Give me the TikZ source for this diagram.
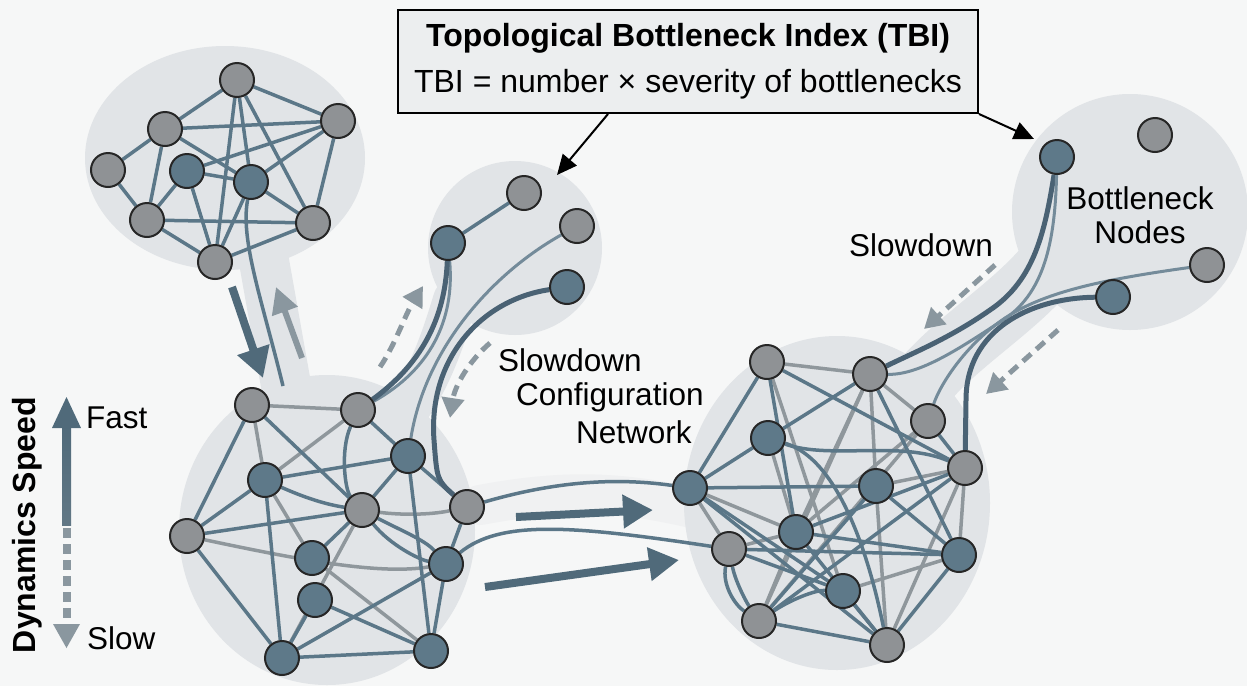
\documentclass[tikz,border=0pt]{standalone}
\usepackage{fontspec}
\setmainfont{Liberation Sans}
\usetikzlibrary{arrows.meta}
\pgfdeclarelayer{bg}
\pgfdeclarelayer{edges}
\pgfsetlayers{bg,edges,main}
\definecolor{bgc}{HTML}{F6F7F7}
\definecolor{blob}{HTML}{E1E4E7}
\definecolor{eblue}{HTML}{5B7788}
\definecolor{egray}{HTML}{8F979C}
\definecolor{ndark}{HTML}{5E7989}
\definecolor{ngray}{HTML}{8F9295}
\definecolor{nbord}{HTML}{262626}
\definecolor{thickc}{HTML}{4A6274}
\definecolor{arrdark}{HTML}{506A7A}
\definecolor{arrlight}{HTML}{8A979F}
\definecolor{boxfill}{HTML}{ECEEEF}
\begin{document}
\begin{tikzpicture}[x=1pt,y=-1pt,
  nd/.style={circle,minimum size=34pt,inner sep=0pt,draw=nbord,line width=2pt,fill=ndark},
  ng/.style={nd,fill=ngray},
  eb/.style={draw=eblue,line width=3.5pt},
  eg/.style={draw=egray,line width=3.5pt},
  tk/.style={draw=thickc,line width=5pt},
  tn/.style={draw=eblue!85!white,line width=3pt},
  neck/.style={draw=blob,line width=55pt,line cap=round},
  txt/.style={font=\fontsize{31.5}{34}\selectfont,inner sep=0pt},
  bigarr/.style={draw=arrdark,line width=8pt,-{Triangle[length=30pt,width=32pt]}},
  lightarr/.style={draw=arrlight,line width=6pt,-{Triangle[length=26pt,width=26pt]}},
  dasharr/.style={draw=arrlight,line width=5pt,dash pattern=on 11pt off 7pt,-{Triangle[length=20pt,width=22pt]}},
  callout/.style={draw=black,line width=2pt,-{Triangle[length=20pt,width=18pt]}}
]
\useasboundingbox (0,0) rectangle (1247,686);
\begin{pgfonlayer}{bg}
\fill[bgc] (0,0) rectangle (1247,686);
% necks
\draw[neck,line width=50pt] (262,250) -- (286,385);
\draw[neck,line width=44pt] (455,300) .. controls (440,350) and (425,390) .. (395,425);
\draw[neck,line width=65pt] (1045,270) .. controls (1010,310) and (960,340) .. (925,380);
\draw[neck,line width=40pt,draw=blob!30!bgc] (480,505) .. controls (560,490) and (620,490) .. (700,510);
% blobs
\fill[blob] (225,158) ellipse [x radius=140, y radius=112];
\fill[blob] (515,248) circle [radius=87];
\fill[blob] (327,530) ellipse [x radius=148, y radius=155];
\fill[blob] (837,503) ellipse [x radius=153, y radius=167];
\fill[blob] (1130,212) circle [radius=118];
\end{pgfonlayer}

% cluster A
\node[ng] (A1) at (237,80) {};
\node[ng] (A2) at (165,129) {};
\node[ng] (A3) at (338,121) {};
\node[ng] (A4) at (108,170) {};
\node[nd] (A5) at (187,171) {};
\node[nd] (A6) at (251,182) {};
\node[ng] (A7) at (147,220) {};
\node[ng] (A8) at (313,223) {};
\node[ng] (A9) at (215,262) {};
% cluster C
\node[nd] (C1) at (448,243) {};
\node[ng] (C2) at (524,193) {};
\node[ng] (C3) at (577,226) {};
\node[nd] (C4) at (567,287) {};
% cluster B
\node[ng] (B1) at (252,405) {};
\node[ng] (B2) at (358,410) {};
\node[nd] (B3) at (408,456) {};
\node[nd] (B4) at (265,480) {};
\node[ng] (B5) at (362,510) {};
\node[ng] (B6) at (467,507) {};
\node[ng] (B7) at (187,536) {};
\node[nd] (B8) at (312,558) {};
\node[nd] (B9) at (446,564) {};
\node[nd] (B10) at (315,600) {};
\node[nd] (B11) at (282,658) {};
\node[nd] (B12) at (431,651) {};
% cluster D
\node[ng] (D1) at (767,362) {};
\node[ng] (D2) at (870,374) {};
\node[ng] (D3) at (928,421) {};
\node[nd] (D4) at (768,438) {};
\node[ng] (D5) at (965,468) {};
\node[nd] (D6) at (690,488) {};
\node[nd] (D7) at (876,486) {};
\node[nd] (D8) at (796,532) {};
\node[ng] (D9) at (729,549) {};
\node[nd] (D10) at (959,555) {};
\node[nd] (D11) at (843,591) {};
\node[ng] (D12) at (759,621) {};
\node[ng] (D13) at (887,645) {};
% cluster E
\node[nd] (E1) at (1057,157) {};
\node[ng] (E2) at (1155,135) {};
\node[ng] (E3) at (1207,265) {};
\node[nd] (E4) at (1113,297) {};

\coordinate (Aend) at (283,386);

\begin{pgfonlayer}{edges}
% A edges
\foreach \a/\b in {A1/A2,A1/A3,A1/A9,A1/A6,A1/A8,A2/A3,A2/A4,A2/A7,A2/A6,A3/A5,A3/A6,A3/A8,A4/A7,A5/A7,A5/A6,A5/A9,A6/A9,A6/A8,A7/A8,A7/A9,A9/A8}
  \draw[eb] (\a) -- (\b);
\draw[eb] (A6) .. controls (240,240) and (262,300) .. (Aend);
% C edges
\draw[eb] (C1) -- (C2);
% B edges
\foreach \a/\b in {B1/B2,B1/B4,B2/B4,B4/B8,B5/B11,B8/B12}
  \draw[eg] (\a) -- (\b);
\draw[eg] (B7) .. controls (300,560) and (380,575) .. (B9);
\draw[eg] (B5) .. controls (400,515) and (430,515) .. (B6);
\foreach \a/\b in {B1/B7,B1/B5,B2/B3,B3/B4,B3/B5,B3/B6,B3/B12,B4/B7,B4/B11,B7/B5,B7/B11,B5/B8,B10/B11,B10/B12,B11/B9,B11/B12,B9/B12,B9/B6}
  \draw[eb] (\a) -- (\b);
\draw[eb] (B2) .. controls (340,450) and (345,490) .. (B5);
\draw[eb] (B4) .. controls (310,500) and (330,505) .. (B5);
\draw[eb] (B5) .. controls (390,545) and (420,560) .. (B9);
\draw[eb] (B5) .. controls (400,530) and (425,540) .. (B9);
% D edges
\foreach \a/\b in {D1/D2,D1/D11,D2/D3,D2/D7,D2/D8,D2/D12,D4/D8,D6/D9,D6/D8,D9/D8,D8/D12,D7/D5,D7/D13,D3/D8,D3/D12,D5/D13,D5/D10,D11/D10}
  \draw[eg] (\a) -- (\b);
\foreach \a/\b in {D1/D6,D1/D8,D1/D5,D2/D4,D2/D10,D4/D6,D6/D7,D6/D11,D9/D11,D9/D10,D8/D10,D8/D5,D8/D13,D7/D12,D7/D10,D3/D5,D5/D12,D11/D13,D12/D13,D10/D13,D6/D13}
  \draw[eb] (\a) -- (\b);
\draw[eb] (D4) .. controls (830,460) and (900,440) .. (D5);
\draw[eb] (D4) .. controls (840,460) and (870,560) .. (D13);
\draw[eb] (D9) .. controls (735,580) and (745,600) .. (D12);
\draw[eb] (D9) .. controls (722,585) and (735,605) .. (D12);
\draw[eb] (D12) .. controls (790,600) and (815,590) .. (D11);
% connectors C -> B
\draw[tn] (C1) .. controls (455,320) and (430,370) .. (B2);
\draw[tk] (C1) .. controls (445,320) and (420,365) .. (B2);
\draw[tn] (C3) .. controls (490,275) and (425,350) .. (B3);
\draw[tk] (C4) .. controls (480,300) and (428,360) .. (434,440) .. controls (437,480) .. (B6);
% connectors B -> D
\draw[eb] (B6) .. controls (560,480) and (620,478) .. (D6);
\draw[eb] (B9) .. controls (500,520) and (570,525) .. (D9);
% connectors E -> D
\draw[tk] (E1) .. controls (1045,230) and (1035,280) .. (990,310) .. controls (950,338) and (915,352) .. (D2);
\draw[tn] (E1) .. controls (1055,240) and (1045,295) .. (1000,322) .. controls (960,348) and (920,375) .. (D2);
\draw[tn] (E3) .. controls (1100,280) and (1045,292) .. (1005,318) .. controls (965,345) and (940,385) .. (D3);
\draw[tk] (E4) .. controls (1030,298) and (966,330) .. (966,400) -- (D5);
\end{pgfonlayer}

% flow arrows
\coordinate (f1s) at (232,287); \coordinate (f1e) at (263,378);
\coordinate (f2s) at (302,358); \coordinate (f2e) at (276,287);
\coordinate (f3s) at (516,517); \coordinate (f3e) at (653,510);
\coordinate (f4s) at (485,587); \coordinate (f4e) at (679,560);
\draw[bigarr] (f1s) -- (f1e);
\draw[lightarr] (f2s) -- (f2e);
\draw[bigarr] (f3s) -- (f3e);
\draw[bigarr] (f4s) -- (f4e);
% dashed arrows
\coordinate (d1s) at (380,367); \coordinate (d1e) at (423,286);
\coordinate (d2s) at (490,343); \coordinate (d2e) at (450,418);
\coordinate (d3s) at (995,265); \coordinate (d3e) at (924,329);
\coordinate (d4s) at (1058,330); \coordinate (d4e) at (986,394);
\draw[dasharr] (d1s) .. controls (395,345) and (405,315) .. (d1e);
\draw[dasharr] (d2s) .. controls (470,360) and (455,385) .. (d2e);
\draw[dasharr] (d3s) -- (d3e);
\draw[dasharr] (d4s) -- (d4e);

% title box
\node[draw=black,line width=2pt,fill=boxfill,minimum width=580pt,minimum height=103pt,inner sep=0pt,align=center,font=\fontsize{32}{46}\selectfont] (T) at (688,61.5)
  {\textbf{Topological Bottleneck Index (TBI)}\\TBI = number × severity of bottlenecks};
\coordinate (t1) at (557,175);
\coordinate (t2) at (1034,139);
\draw[callout] ([xshift=-80pt]T.south) -- (t1);
\draw[callout] (T.south east) -- (t2);

% labels
\node[txt,anchor=west] (s1) at (498,360) {Slowdown};
\node[txt,anchor=west] (s2) at (516,397) {Configuration};
\node[txt,anchor=west] (s3) at (576,432) {Network};
\node[txt] (sd) at (921,245) {Slowdown};
\node[txt,align=center] (bn) at (1140,215) {Bottleneck\\Nodes};

% speed legend
\shade[top color=arrdark,bottom color=arrdark!70!arrlight] (62,425) rectangle (71,525);
\fill[arrdark] (52,428) -- (66.5,397) -- (81,428) -- cycle;
\draw[arrlight,line width=8pt,dash pattern=on 10pt off 6pt] (66.5,528) -- (66.5,624);
\fill[arrlight] (53,624) -- (80,624) -- (66.5,648) -- cycle;
\node[txt,anchor=west] (fast) at (86,418) {Fast};
\node[txt,anchor=west] (slow) at (87,638) {Slow};
\node[txt,font=\fontsize{32}{34}\selectfont\bfseries,rotate=90] (dyn) at (27,525) {Dynamics Speed};
\end{tikzpicture}
\end{document}
